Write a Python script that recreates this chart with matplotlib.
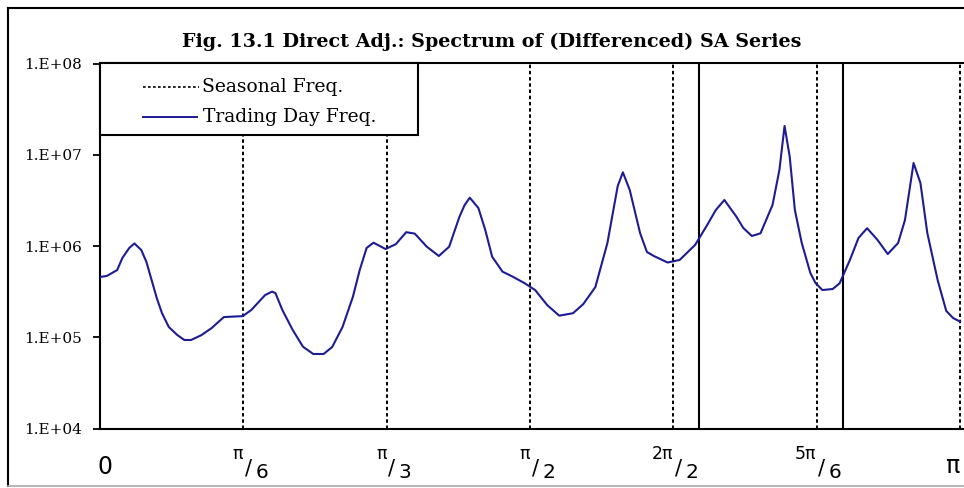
import numpy as np
import matplotlib
matplotlib.use("Agg")
import matplotlib.pyplot as plt
from matplotlib.patches import Rectangle
from matplotlib.lines import Line2D
from matplotlib.ticker import FixedLocator, FuncFormatter, NullLocator
import matplotlib.transforms as mtransforms

# ---------------- data ----------------
title = "Fig. 13.1 Direct Adj.: Spectrum of (Differenced) SA Series"
legend_labels = ["Seasonal Freq.", "Trading Day Freq."]

# frequency in cycles per month (0 .. 0.5), plotted as 2*pi*f
freq = [0.000, 0.004, 0.010, 0.013, 0.017, 0.020, 0.024, 0.027, 0.030, 0.033,
        0.036, 0.040, 0.045, 0.049, 0.053, 0.059, 0.065, 0.072, 0.083, 0.088,
        0.096, 0.100, 0.102, 0.106, 0.112, 0.118, 0.124, 0.130, 0.135, 0.141,
        0.147, 0.151, 0.155, 0.159, 0.166, 0.172, 0.178, 0.183, 0.190, 0.197,
        0.203, 0.209, 0.212, 0.215, 0.220, 0.224, 0.228, 0.234, 0.240, 0.247,
        0.253, 0.260, 0.267, 0.275, 0.281, 0.288, 0.295, 0.301, 0.304, 0.308,
        0.314, 0.318, 0.322, 0.330, 0.337, 0.346, 0.353, 0.358, 0.363, 0.370,
        0.374, 0.379, 0.384, 0.391, 0.395, 0.398, 0.401, 0.404, 0.408, 0.413,
        0.416, 0.420, 0.426, 0.430, 0.436, 0.441, 0.446, 0.452, 0.458, 0.464,
        0.468, 0.473, 0.477, 0.481, 0.487, 0.492, 0.496, 0.500]

spectrum = [4.59e5, 4.71e5, 5.47e5, 7.41e5, 9.53e5, 1.07e6, 9.06e5, 6.70e5, 4.25e5, 2.70e5,
            1.85e5, 1.30e5, 1.06e5, 9.37e4, 9.37e4, 1.06e5, 1.27e5, 1.67e5, 1.71e5, 2.00e5,
            2.91e5, 3.17e5, 3.06e5, 2.00e5, 1.21e5, 7.91e4, 6.58e4, 6.58e4, 7.85e4, 1.30e5,
            2.77e5, 5.47e5, 9.53e5, 1.09e6, 9.29e5, 1.05e6, 1.42e6, 1.37e6, 9.85e5, 7.79e5,
            9.85e5, 2.10e6, 2.82e6, 3.39e6, 2.61e6, 1.50e6, 7.65e5, 5.25e5, 4.62e5, 3.91e5,
            3.30e5, 2.26e5, 1.73e5, 1.84e5, 2.32e5, 3.56e5, 1.08e6, 4.55e6, 6.43e6, 4.11e6,
            1.39e6, 8.61e5, 7.79e5, 6.61e5, 7.05e5, 1.03e6, 1.70e6, 2.48e6, 3.20e6, 2.10e6,
            1.58e6, 1.29e6, 1.38e6, 2.82e6, 6.82e6, 2.07e7, 9.53e6, 2.48e6, 1.08e6, 5.07e5,
            3.94e5, 3.30e5, 3.39e5, 3.91e5, 7.05e5, 1.23e6, 1.57e6, 1.17e6, 8.19e5, 1.08e6,
            1.93e6, 8.13e6, 4.91e6, 1.39e6, 4.25e5, 1.95e5, 1.63e5, 1.49e5]

seasonal_freqs = [1/12, 2/12, 3/12, 4/12, 5/12, 6/12]
trading_day_freqs = [0.348, 0.432]

y_ticks = [1e4, 1e5, 1e6, 1e7, 1e8]
x_label_nums = ["", "π", "π", "π", "2π", "5π", "π"]
x_label_dens = ["", "6", "3", "2", "2", "6", ""]
x_label_positions = [0, 1/12, 2/12, 3/12, 4/12, 5/12, 6/12]  # cycles

# ---------------- figure ----------------
W, H = 964, 488
fig = plt.figure(figsize=(W/100, H/100), dpi=100)
fig.patch.set_facecolor("white")

def fx(px):
    return px / W

def fy(py):
    return 1 - py / H

ax_left, ax_right, ax_top, ax_bot = 100, 964, 63.5, 428.7
ax = fig.add_axes([fx(ax_left), fy(ax_bot), fx(ax_right - ax_left), (ax_bot - ax_top) / H])
ax.set_facecolor("white")

x = 2 * np.pi * np.array(freq)
navy = "#1c1c94"

for f in seasonal_freqs:
    ax.axvline(2 * np.pi * f, color="black", lw=1.4, ls=(0, (1.8, 1.4)), zorder=2)
for f in trading_day_freqs:
    ax.axvline(2 * np.pi * f, color="black", lw=1.5, zorder=2)

ax.plot(x, spectrum, color=navy, lw=1.5, zorder=3, solid_joinstyle="round")

ax.set_yscale("log")
ax.set_ylim(1e4, 1e8)
ax.set_xlim(0, np.pi * (ax_right - ax_left) / 860.0)

ax.yaxis.set_major_locator(FixedLocator(y_ticks))
ax.yaxis.set_minor_locator(NullLocator())
ax.yaxis.set_major_formatter(FuncFormatter(lambda v, p: "1.E+%02d" % int(round(np.log10(v)))))
ax.tick_params(axis="y", which="major", direction="out", length=5, width=1.3, pad=8,
               labelsize=11, colors="black")
for lab in ax.get_yticklabels():
    lab.set_fontfamily("DejaVu Serif")
ax.set_xticks([])

for s in ["left", "bottom", "top"]:
    ax.spines[s].set_linewidth(1.5)
    ax.spines[s].set_color("black")
ax.spines["right"].set_visible(False)

# x labels (fractions)
sans = ["DejaVu Sans"]
for pos, num, den in zip(x_label_positions, x_label_nums, x_label_dens):
    xd = 2 * np.pi * pos
    trans_base = mtransforms.blended_transform_factory(ax.transData, fig.transFigure)
    if num == "" and den == "":
        off = mtransforms.ScaledTranslation(5/100, 0, fig.dpi_scale_trans)
        ax.text(xd, fy(474), "0", ha="center", va="baseline", fontsize=17,
                family=sans, transform=trans_base + off, clip_on=False)
    elif den == "":
        off = mtransforms.ScaledTranslation(-8/100, 0, fig.dpi_scale_trans)
        ax.text(xd, fy(473), num, ha="center", va="baseline", fontsize=17,
                family=sans, transform=trans_base + off, clip_on=False)
    else:
        sc = 5
        off_n = mtransforms.ScaledTranslation((sc - 5)/100, 0, fig.dpi_scale_trans)
        off_s = mtransforms.ScaledTranslation(sc/100, 0, fig.dpi_scale_trans)
        off_d = mtransforms.ScaledTranslation((sc + 7)/100, 0, fig.dpi_scale_trans)
        ax.text(xd, fy(459), num, ha="right", va="baseline", fontsize=12.5,
                family=sans, transform=trans_base + off_n, clip_on=False)
        ax.text(xd, fy(475), "/", ha="center", va="baseline", fontsize=15,
                family=sans, transform=trans_base + off_s, clip_on=False)
        ax.text(xd, fy(478), den, ha="left", va="baseline", fontsize=14.5,
                family=sans, transform=trans_base + off_d, clip_on=False)

# legend (manual box, axes coordinates)
axw, axh = ax_right - ax_left, ax_bot - ax_top
def ax_x(px):
    return (px - ax_left) / axw
def ax_y(py):
    return (ax_bot - py) / axh

ax.add_patch(Rectangle((0, ax_y(135.5)), ax_x(418), 1 - ax_y(135.5), transform=ax.transAxes,
                       facecolor="white", edgecolor="black", lw=1.5, zorder=6, clip_on=False))
ax.add_line(Line2D([ax_x(143), ax_x(199)], [ax_y(87), ax_y(87)], transform=ax.transAxes,
                   color="black", lw=1.2, ls=(0, (1.6, 1.4)), zorder=7))
ax.add_line(Line2D([ax_x(143), ax_x(197)], [ax_y(117), ax_y(117)], transform=ax.transAxes,
                   color=navy, lw=1.4, zorder=7))
ax.text(ax_x(202), ax_y(87), legend_labels[0], transform=ax.transAxes, ha="left", va="center",
        fontsize=13.5, family="DejaVu Serif", zorder=8)
ax.text(ax_x(203), ax_y(117), legend_labels[1], transform=ax.transAxes, ha="left", va="center",
        fontsize=13.5, family="DejaVu Serif", zorder=8)

# title
fig.text(fx(491.5), fy(47), title, ha="center", va="baseline", fontsize=13.8,
         fontweight="bold", family="DejaVu Serif")

# outer chart frame
fig.add_artist(Line2D([fx(8), 1.0], [fy(8), fy(8)], transform=fig.transFigure, color="black", lw=1.5))
fig.add_artist(Line2D([fx(8), fx(8)], [fy(8), fy(486)], transform=fig.transFigure, color="black", lw=1.5))
fig.add_artist(Line2D([fx(8), 1.0], [fy(486), fy(486)], transform=fig.transFigure, color="#aaaaaa", lw=1.2))

fig.savefig("out.png", dpi=100, facecolor="white")
